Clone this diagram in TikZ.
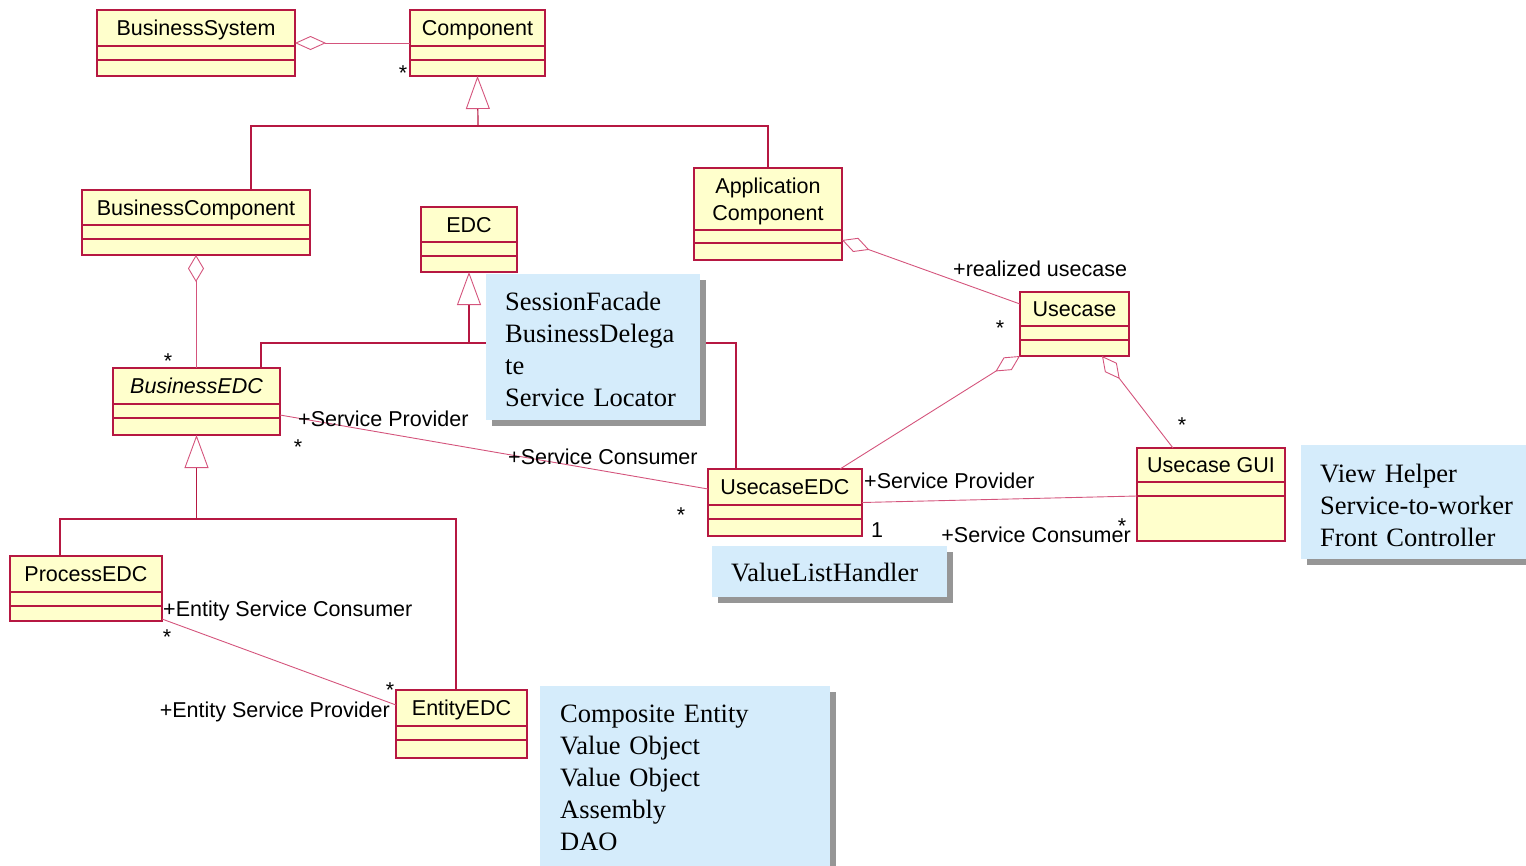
\documentclass[tikz,border=0pt]{standalone}
\usepackage{fontspec}
\setmainfont{Liberation Serif}
\setsansfont{Liberation Sans}
\usetikzlibrary{arrows.meta,calc}

\definecolor{clsfill}{RGB}{255,255,204}
\definecolor{clsedge}{RGB}{182,24,66}
\definecolor{linkpink}{RGB}{212,84,124}
\definecolor{notefill}{RGB}{213,236,251}
\definecolor{noteshade}{RGB}{150,150,150}

\tikzset{
  cls/.style={draw=clsedge, fill=clsfill, line width=1.5pt, inner sep=0pt, outer sep=0pt},
  divider/.style={draw=clsedge, line width=1.1pt},
  clstitle/.style={font=\sffamily\fontsize{21.5}{27}\selectfont, inner sep=0pt, anchor=base},
  tree/.style={draw=clsedge, line width=1.2pt},
  gen/.style={tree, -{Triangle[open, length=33pt, width=24pt, line width=0.9pt, color=linkpink]}},
  agg/.style={draw=linkpink, line width=0.9pt, {Diamond[open, length=29pt, width=15pt]}-},
  assoc/.style={draw=linkpink, line width=0.9pt},
  lbl/.style={font=\sffamily\fontsize{21.5}{26}\selectfont, inner sep=0pt},
  mult/.style={lbl, anchor=base},
  notebox/.style={fill=notefill, inner sep=0pt, outer sep=0pt},
  noteshadow/.style={fill=noteshade},
  notetext/.style={font=\rmfamily\fontsize{26.5}{32}\selectfont, inner sep=0pt,
    anchor=base west, align=left, text width=#1},
}

% class box with two compartments: name, x1, y1, x2, y2, divider 1, divider 2
\newcommand\umlbox[7]{%
  \node[cls, minimum width={(#4-#2)*1pt}, minimum height={(#5-#3)*1pt}]
    (#1) at ({(#2+#4)/2},{(#3+#5)/2}) {};
  \draw[divider] (#2,#6) -- (#4,#6) (#2,#7) -- (#4,#7);
}
% note with drop shadow: name, x1, y1, x2, y2
\newcommand\umlnote[5]{%
  \fill[noteshadow] (#2+6,#3+6) rectangle (#4+6,#5+6);
  \node[notebox, minimum width={(#4-#2)*1pt}, minimum height={(#5-#3)*1pt}]
    (#1) at ({(#2+#4)/2},{(#3+#5)/2}) {};
}

\begin{document}
\begin{tikzpicture}[x=1pt, y=-1pt]
\useasboundingbox (0,0) rectangle (1526,865);

% ---- classes ----
\umlbox{bsys}{97}{10}{295}{76}{46}{60}
\node[clstitle] (bsys-name) at (196,35.5) {BusinessSystem};
\umlbox{comp}{410}{10}{545}{76}{46}{60}
\node[clstitle] (comp-name) at (477.5,35.5) {Component};
\umlbox{bcomp}{82}{190}{310}{255}{225}{239}
\node[clstitle] (bcomp-name) at (196,215) {BusinessComponent};
\umlbox{edc}{421}{207}{517}{272}{242}{256}
\node[clstitle] (edc-name) at (469,232) {EDC};
\umlbox{appc}{694}{168}{842}{260}{230}{243}
\node[clstitle, text width=150pt, align=center] (appc-name) at (768,193)
  {Application\\Component};
\umlbox{uc}{1020}{292}{1129}{356}{326}{340}
\node[clstitle] (uc-name) at (1074.5,316.5) {Usecase};
\umlbox{bedc}{113}{368}{280}{435}{404}{418}
\node[clstitle] (bedc-name) at (196.5,393.5) {\itshape BusinessEDC};
\umlbox{ucedc}{708}{469}{862}{536}{505}{519}
\node[clstitle] (ucedc-name) at (785,494.5) {UsecaseEDC};
\umlbox{ucgui}{1137}{448}{1285}{541}{482}{496}
\node[clstitle] (ucgui-name) at (1211,472.5) {Usecase GUI};
\umlbox{pedc}{10}{556}{162}{621}{592}{606}
\node[clstitle] (pedc-name) at (86,581.5) {ProcessEDC};
\umlbox{eedc}{396}{690}{527}{758}{726}{740}
\node[clstitle] (eedc-name) at (461.5,715.5) {EntityEDC};

% ---- generalisation trees ----
\coordinate (t1) at (478,126);
\coordinate (t1l) at (251,126);
\coordinate (t1r) at (768,126);
\draw[gen] (t1) -- (comp.south);
\draw[tree] (bcomp.north -| t1l) -- (t1l) -- (t1r) -- (appc.north);

\coordinate (t2) at (469,343);
\coordinate (t2l) at (261,343);
\coordinate (t2r) at (736,343);
\draw[gen] (t2) -- (edc.south);
\draw[tree] (bedc.north -| t2l) -- (t2l) -- (t2r) -- (ucedc.north -| t2r);

\coordinate (t3) at (196.5,519);
\coordinate (t3l) at (60,519);
\coordinate (t3r) at (456,519);
\draw[gen] (t3) -- (bedc.south);
\draw[tree] (pedc.north -| t3l) -- (t3l) -- (t3r) -- (eedc.north -| t3r);

% ---- aggregations ----
\draw[agg, {Diamond[open, length=31pt, width=14pt]}-] (bsys.east) -- (comp.west);
\draw[agg, {Diamond[open, length=27pt, width=16pt]}-] (bcomp.south) -- (bcomp.south |- bedc.north);
\draw[agg] ([yshift=20pt]appc.south east) -- ([yshift=20pt]uc.west);
\draw[agg] (uc.south west) -- ([xshift=55pt]ucedc.north);
\draw[agg] ([xshift=-27pt]uc.south east) -- ([xshift=-38pt]ucgui.north);

% ---- associations ----
\draw[assoc] ([yshift=-13.5pt]bedc.east) -- ([yshift=13.5pt]ucedc.west);
\draw[assoc] (ucedc.east) -- ([yshift=-1.5pt]ucgui.west);
\draw[assoc] ([yshift=2pt]pedc.south east) -- ([yshift=19pt]eedc.west);

% ---- roles and multiplicities ----
\node[mult] (m-comp) at (403,80) {*};
\node[lbl, anchor=base west] (r-real) at (953,276) {+realized usecase};
\node[mult] (m-uc) at (1000,335) {*};
\node[mult] (m-bedc) at (168,368) {*};
\node[lbl, anchor=base west] (r-sp1) at (298,426) {+Service Provider};
\node[mult] (m-sp1) at (298,454) {*};
\node[lbl, anchor=base west] (r-sc1) at (508,464) {+Service Consumer};
\node[mult] (m-sc1) at (681,522) {*};
\node[lbl, anchor=base west] (r-sp2) at (864,488) {+Service Provider};
\node[mult] (m-one) at (877,537) {1};
\node[lbl, anchor=base east] (r-sc2) at (1131,542) {+Service Consumer};
\node[mult] (m-sc2) at (1122,533) {*};
\node[mult] (m-gui) at (1182,432) {*};
\node[lbl, anchor=base west] (r-esc) at (163,616) {+Entity Service Consumer};
\node[mult] (m-esc) at (167,644) {*};
\node[lbl, anchor=base east] (r-esp) at (390,717) {+Entity Service Provider};
\node[mult] (m-esp) at (390,697) {*};

% ---- pattern notes ----
\umlnote{n1}{486}{274}{700}{420}
\node[notetext=260pt] (n1-text) at (505,310)
  {SessionFacade\\BusinessDelega\\te\\Service Locator};
\umlnote{n2}{712}{546}{947}{597}
\node[notetext=260pt] (n2-text) at (731,581) {ValueListHandler};
\umlnote{n3}{1301}{445}{1540}{559}
\node[notetext=220pt] (n3-text) at (1320,482)
  {View Helper\\Service-to-worker\\Front Controller};
\umlnote{n4}{540}{686}{830}{890}
\node[notetext=280pt] (n4-text) at (560,722)
  {Composite Entity\\Value Object\\Value Object\\Assembly\\DAO};
\end{tikzpicture}
\end{document}
